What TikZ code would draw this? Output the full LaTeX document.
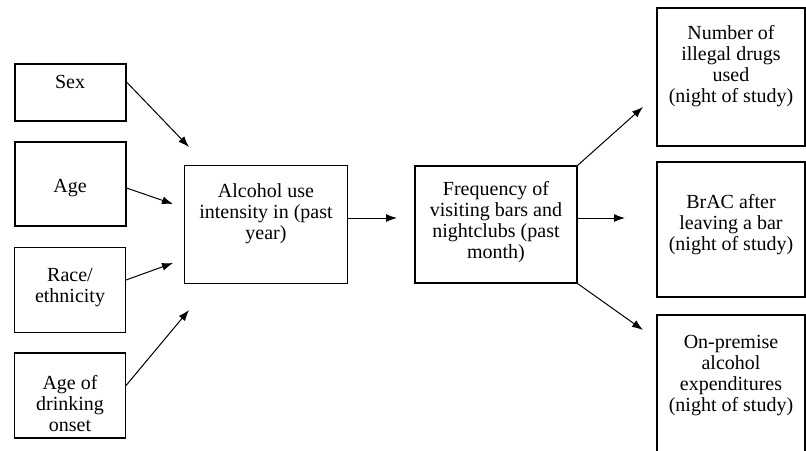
\documentclass[tikz,border=0pt]{standalone}
\usepackage{fontspec}
\setmainfont{Liberation Serif}
\usetikzlibrary{positioning,arrows.meta}

\begin{document}
\begin{tikzpicture}[x=1pt, y=-1pt,
    box/.style={draw, line width=1.1pt, inner sep=0pt},
    txt/.style={align=center, inner sep=0pt, font=\fontsize{20}{21}\selectfont},
    arr/.style={line width=1pt, -{Latex[length=11pt,width=8pt]}}]
    \useasboundingbox (0,0) rectangle (806,450);
    \clip (0,0) rectangle (806,450);

    % left column
    \node[box, minimum width=111pt, minimum height=57pt] (sex) at (70.5,92.5) {};
    \node[box, minimum width=111pt, minimum height=84pt] (age) at (70.5,184) {};
    \node[box, minimum width=111pt, minimum height=85pt] (race) at (70,290) {};
    \node[box, minimum width=111pt, minimum height=85pt] (onset) at (70,395.5) {};
    \node[txt] (sexT) at (70,82) {Sex};
    \node[txt] (ageT) at (70,188) {Age};
    \node[txt] (raceT) at (70,288) {Race/\\ethnicity};
    \node[txt] (onsetT) at (70,404) {Age of\\drinking\\onset};

    % middle
    \node[box, minimum width=163pt, minimum height=118pt] (alc) at (266,224.5) {};
    \node[box, minimum width=162pt, minimum height=117pt] (freq) at (496,224.5) {};
    \node[txt] (alcT) at (266,214) {Alcohol use\\intensity in (past\\year)};
    \node[txt] (freqT) at (496,222) {Frequency of\\visiting bars and\\nightclubs (past\\month)};

    % right column
    \node[box, minimum width=148pt, minimum height=138pt] (drugs) at (731,77) {};
    \node[box, minimum width=148pt, minimum height=135pt] (brac) at (731,229.5) {};
    \node[box, minimum width=148pt, minimum height=140pt] (spend) at (731,385) {};
    \node[txt] (drugsT) at (731,66) {Number of\\illegal drugs\\used\\(night of study)};
    \node[txt] (bracT) at (731,225) {BrAC after\\leaving a bar\\(night of study)};
    \node[txt] (spendT) at (731,376) {On-premise\\alcohol\\expenditures\\(night of study)};

    % arrow tips
    \coordinate (sexTip) at (189,147);
    \coordinate (ageTip) at (173,204);
    \coordinate (raceTip) at (173,263);
    \coordinate (onsetTip) at (189,310);
    \coordinate (freqIn) at (397,218);
    \coordinate (drugsTip) at (643,107);
    \coordinate (bracTip) at (625,218);
    \coordinate (spendTip) at (643,330);

    \draw[arr] (sex.east |- sexT) -- (sexTip);
    \draw[arr] (age.east |- ageT) -- (ageTip);
    \draw[arr] ([yshift=10pt]race.east) -- (raceTip);
    \draw[arr] ([yshift=10pt]onset.east) -- (onsetTip);
    \draw[arr] (alc.east |- freqIn) -- (freqIn);
    \draw[arr] (freq.north east) -- (drugsTip);
    \draw[arr] (freq.east |- bracTip) -- (bracTip);
    \draw[arr] (freq.south east) -- (spendTip);
\end{tikzpicture}
\end{document}
